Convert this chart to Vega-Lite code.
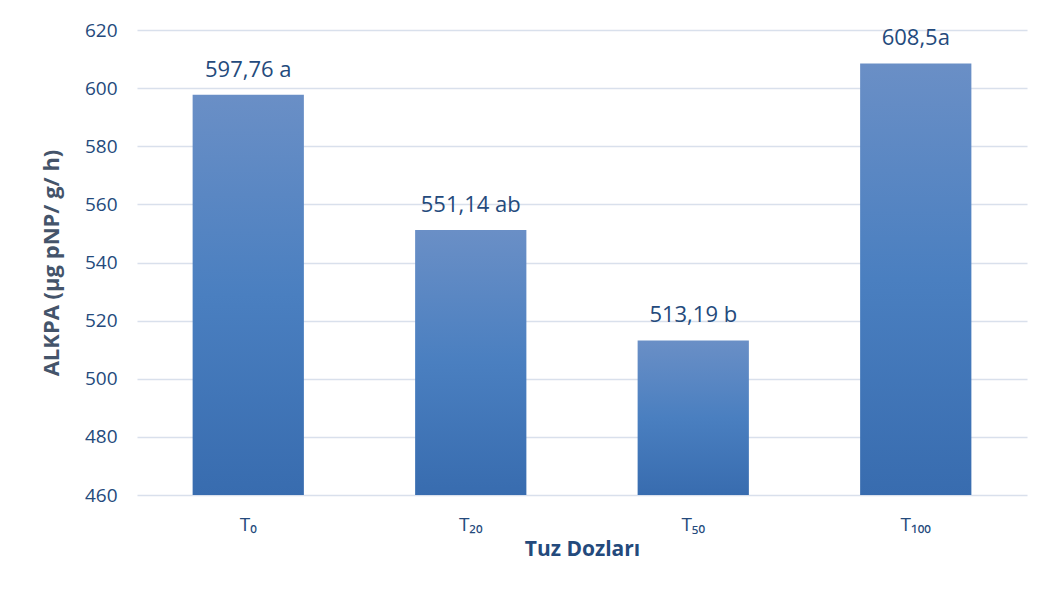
{
  "$schema": "https://vega.github.io/schema/vega-lite/v6.json",
  "width": 890,
  "height": 465,
  "autosize": {"type": "none"},
  "padding": {"left": 137, "top": 30, "right": 17, "bottom": 119},
  "background": "white",
  "config": {
    "view": {"stroke": null},
    "font": "Open Sans"
  },
  "data": {
    "values": [
      {"doz": "T₀", "alkpa": 597.76, "etiket": "597,76 a"},
      {"doz": "T₂₀", "alkpa": 551.14, "etiket": "551,14 ab"},
      {"doz": "T₅₀", "alkpa": 513.19, "etiket": "513,19 b"},
      {"doz": "T₁₀₀", "alkpa": 608.5, "etiket": "608,5a"}
    ]
  },
  "encoding": {
    "x": {
      "field": "doz",
      "type": "nominal",
      "sort": null,
      "scale": {"paddingInner": 0.5, "paddingOuter": 0.25},
      "axis": {
        "title": "Tuz Dozları",
        "titleFont": "Open Sans",
        "titleFontSize": 21,
        "titleFontWeight": "bold",
        "titleColor": "#244A7C",
        "titlePadding": 4,
        "labelAngle": 0,
        "labelFontSize": 19,
        "labelColor": "#244A7C",
        "labelPadding": 20,
        "ticks": false,
        "domain": false
      }
    }
  },
  "layer": [
    {
      "mark": {
        "type": "bar",
        "fill": {
          "gradient": "linear",
          "x1": 0, "y1": 0, "x2": 0, "y2": 1,
          "stops": [
            {"offset": 0, "color": "#6A8FC6"},
            {"offset": 0.5, "color": "#4A7FC0"},
            {"offset": 1, "color": "#386CAF"}
          ]
        }
      },
      "encoding": {
        "y": {
          "field": "alkpa",
          "type": "quantitative",
          "scale": {"domain": [460, 620], "zero": false, "nice": false},
          "axis": {
            "values": [460, 480, 500, 520, 540, 560, 580, 600, 620],
            "title": "ALKPA (µg pNP/ g/ h)",
            "titleFont": "Open Sans",
            "titleFontSize": 22,
            "titleFontWeight": "bold",
            "titleColor": "#44546A",
            "titlePadding": 21,
            "labelFontSize": 19,
            "labelColor": "#244A7C",
            "labelPadding": 20,
            "ticks": false,
            "domain": false,
            "grid": true,
            "gridColor": "#D9E0EC",
            "gridWidth": 1.5
          }
        },
        "y2": {"datum": 460}
      }
    },
    {
      "mark": {
        "type": "text",
        "baseline": "bottom",
        "dy": -13,
        "fontSize": 22,
        "color": "#244A7C"
      },
      "encoding": {
        "y": {"field": "alkpa", "type": "quantitative"},
        "text": {"field": "etiket"}
      }
    }
  ]
}
